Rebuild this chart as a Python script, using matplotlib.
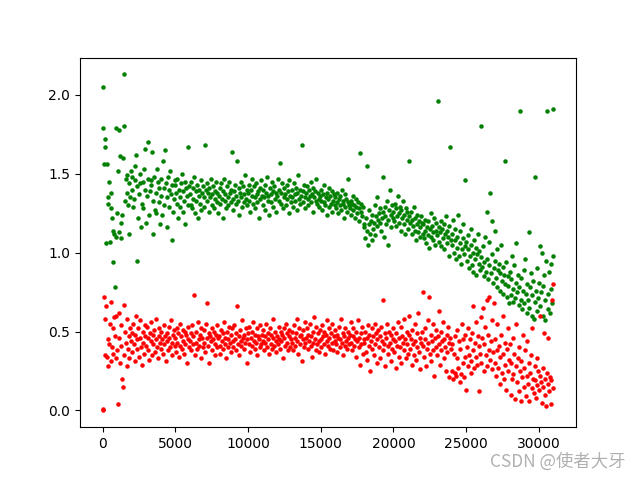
import numpy as np
import matplotlib
matplotlib.use("Agg")
import matplotlib.pyplot as plt

step = 50

green_y = [
    2.05, 1.79, 1.56, 1.72, 1.67, 1.06, 1.56, 1.35, 1.31, 1.45, 1.07, 1.28, 1.38, 1.22, 0.94, 1.14, 1.12, 0.78, 1.79, 1.10,
    1.25, 1.52, 1.13, 1.78, 1.61, 1.09, 1.19, 1.24, 1.60, 2.13, 1.80, 1.33, 1.47, 1.38, 1.49, 1.30, 1.12, 1.44, 1.35, 1.52,
    1.48, 1.40, 1.29, 1.34, 1.46, 1.55, 1.62, 1.42, 0.95, 1.22, 1.37, 1.50, 1.44, 1.16, 1.31, 1.45, 1.28, 1.53, 1.66, 1.40,
    1.19, 1.36, 1.70, 1.47, 1.24, 1.39, 1.46, 1.43, 1.64, 1.33, 1.12, 1.48, 1.27, 1.38, 1.25, 1.53, 1.45, 1.32, 1.41, 1.18,
    1.47, 1.36, 1.24, 1.58, 1.41, 1.30, 1.65, 1.44, 1.35, 1.16, 1.48, 1.29, 1.40, 1.52, 1.37, 1.08, 1.43, 1.26, 1.34, 1.46,
    1.43, 1.38, 1.31, 1.47, 1.22, 1.40, 1.35, 1.29, 1.44, 1.50, 1.26, 1.39, 1.33, 1.45, 1.18, 1.41, 1.36, 1.30, 1.67, 1.42,
    1.37, 1.30, 1.45, 1.28, 1.41, 1.34, 1.48, 1.25, 1.39, 1.33, 1.43, 1.22, 1.36, 1.40, 1.31, 1.46, 1.27, 1.38, 1.42, 1.35,
    1.29, 1.68, 1.40, 1.33, 1.44, 1.38, 1.26, 1.41, 1.35, 1.47, 1.30, 1.37, 1.42, 1.28, 1.39, 1.34, 1.45, 1.32, 1.38, 1.25,
    1.36, 1.41, 1.31, 1.44, 1.34, 1.22, 1.39, 1.47, 1.33, 1.37, 1.28, 1.42, 1.35, 1.30, 1.45, 1.38, 1.32, 1.40, 1.64, 1.34,
    1.27, 1.39, 1.43, 1.31, 1.36, 1.58, 1.33, 1.41, 1.24, 1.38, 1.45, 1.35, 1.29, 1.42, 1.37, 1.32, 1.49, 1.34, 1.40, 1.30,
    1.38, 1.43, 1.33, 1.26, 1.40, 1.36, 1.47, 1.31, 1.42, 1.35, 1.28, 1.44, 1.37, 1.32, 1.39, 1.22, 1.41, 1.34, 1.46, 1.36,
    1.30, 1.40, 1.35, 1.43, 1.27, 1.38, 1.48, 1.33, 1.36, 1.24, 1.41, 1.37, 1.32, 1.45, 1.39, 1.29, 1.42, 1.34, 1.38, 1.26,
    1.36, 1.47, 1.33, 1.40, 1.57, 1.31, 1.38, 1.44, 1.28, 1.35, 1.41, 1.37, 1.30, 1.43, 1.34, 1.39, 1.25, 1.46, 1.36, 1.32,
    1.40, 1.35, 1.29, 1.44, 1.37, 1.33, 1.41, 1.27, 1.38, 1.49, 1.34, 1.40, 1.31, 1.36, 1.68, 1.39, 1.32, 1.43, 1.35, 1.28,
    1.38, 1.42, 1.34, 1.30, 1.40, 1.36, 1.45, 1.32, 1.37, 1.26, 1.41, 1.35, 1.39, 1.33, 1.47, 1.31, 1.38, 1.34, 1.29, 1.36,
    1.33, 1.40, 1.27, 1.37, 1.32, 1.43, 1.30, 1.35, 1.38, 1.24, 1.34, 1.41, 1.29, 1.36, 1.31, 1.39, 1.26, 1.33, 1.37, 1.30,
    1.35, 1.28, 1.32, 1.38, 1.25, 1.34, 1.30, 1.36, 1.27, 1.40, 1.31, 1.33, 1.22, 1.37, 1.29, 1.34, 1.26, 1.32, 1.47, 1.30,
    1.28, 1.33, 1.24, 1.31, 1.36, 1.27, 1.30, 1.22, 1.34, 1.29, 1.25, 1.32, 1.20, 1.28, 1.63, 1.26, 1.31, 1.23, 1.29, 1.18,
    1.16, 1.09, 1.22, 1.14, 1.55, 1.05, 1.18, 1.27, 1.12, 1.20, 1.08, 1.24, 1.15, 1.19, 1.30, 1.11, 1.23, 1.17, 1.35, 1.21,
    1.25, 1.19, 1.28, 1.14, 1.22, 1.48, 1.26, 1.10, 1.23, 1.29, 1.18, 1.33, 1.21, 1.05, 1.27, 1.40, 1.24, 1.16, 1.30, 1.22,
    1.26, 1.20, 1.31, 1.17, 1.28, 1.23, 1.36, 1.19, 1.25, 1.29, 1.14, 1.27, 1.22, 1.33, 1.18, 1.24, 1.12, 1.28, 1.21, 1.26,
    1.15, 1.23, 1.58, 1.19, 1.26, 1.12, 1.21, 1.17, 1.29, 1.14, 1.22, 1.08, 1.18, 1.24, 1.13, 1.20, 1.10, 1.16, 1.23, 1.19,
    1.12, 1.18, 1.09, 1.21, 1.14, 1.06, 1.16, 1.11, 1.20, 1.03, 1.15, 1.25, 1.10, 1.17, 1.08, 1.13, 1.22, 1.05, 1.14, 1.19,
    1.11, 1.96, 1.16, 1.07, 1.13, 1.20, 1.04, 1.15, 1.09, 1.18, 1.02, 1.12, 1.23, 1.06, 1.14, 1.10, 0.98, 1.17, 1.67, 1.08,
    1.05, 1.12, 1.21, 1.00, 1.08, 1.15, 0.96, 1.03, 1.10, 1.24, 0.98, 1.06, 1.14, 0.93, 1.02, 1.09, 1.18, 0.99, 1.46, 1.04,
    1.07, 0.95, 1.02, 1.11, 0.90, 0.98, 1.05, 1.15, 0.92, 1.00, 0.88, 1.08, 0.96, 1.03, 0.86, 0.99, 1.12, 0.93, 1.01, 0.89,
    1.80, 0.97, 0.91, 1.04, 0.85, 0.94, 1.10, 0.88, 1.26, 0.96, 0.83, 1.07, 0.92, 1.38, 0.87, 0.99, 1.20, 0.81, 0.90, 1.14,
    0.95, 0.84, 1.02, 0.78, 0.89, 0.93, 0.76, 0.87, 1.05, 0.82, 0.91, 0.74, 0.86, 1.58, 0.80, 0.94, 0.72, 0.85, 0.79, 0.68,
    0.88, 0.73, 0.83, 0.98, 0.69, 0.77, 0.92, 0.71, 0.81, 1.06, 0.75, 0.86, 0.67, 0.78, 1.90, 0.70, 0.84, 0.64, 0.76, 0.89,
    0.68, 0.96, 0.74, 0.62, 0.80, 0.70, 1.13, 0.65, 0.78, 0.87, 0.60, 0.73, 0.82, 0.58, 0.69, 1.48, 0.76, 0.63, 0.90, 0.71,
    0.81, 1.04, 0.66, 0.75, 1.00, 0.60, 0.79, 0.86, 0.57, 0.70, 0.95, 1.90, 0.64, 0.74, 0.88, 0.62, 0.93, 0.77, 0.68, 1.91,
    0.98,
]

red_y = [
    0.00, 0.01, 0.72, 0.35, 0.58, 0.66, 0.34, 0.45, 0.28, 0.42, 0.55, 0.31, 0.69, 0.40, 0.52, 0.36, 0.59, 0.47, 0.33, 0.60,
    0.38, 0.04, 0.46, 0.62, 0.30, 0.54, 0.41, 0.20, 0.15, 0.67, 0.35, 0.50, 0.43, 0.28, 0.58, 0.39, 0.47, 0.33, 0.52, 0.44,
    0.49, 0.37, 0.55, 0.42, 0.31, 0.48, 0.60, 0.39, 0.45, 0.52, 0.34, 0.46, 0.57, 0.40, 0.29, 0.50, 0.43, 0.36, 0.54, 0.47,
    0.41, 0.53, 0.38, 0.46, 0.32, 0.49, 0.44, 0.56, 0.35, 0.48, 0.42, 0.51, 0.37, 0.45, 0.58, 0.40, 0.33, 0.47, 0.52, 0.43,
    0.39, 0.50, 0.45, 0.36, 0.54, 0.42, 0.47, 0.31, 0.49, 0.44, 0.38, 0.53, 0.46, 0.40, 0.57, 0.43, 0.35, 0.48, 0.51, 0.41,
    0.46, 0.37, 0.52, 0.43, 0.49, 0.34, 0.55, 0.41, 0.47, 0.39, 0.51, 0.44, 0.36, 0.50, 0.42, 0.48, 0.30, 0.45, 0.53, 0.40,
    0.44, 0.49, 0.38, 0.54, 0.42, 0.47, 0.73, 0.35, 0.50, 0.43, 0.39, 0.56, 0.45, 0.41, 0.48, 0.33, 0.52, 0.46, 0.40, 0.51,
    0.43, 0.37, 0.55, 0.46, 0.68, 0.41, 0.49, 0.30, 0.47, 0.44, 0.52, 0.38, 0.45, 0.50, 0.42, 0.35, 0.48, 0.54, 0.40, 0.46,
    0.47, 0.41, 0.36, 0.51, 0.44, 0.49, 0.39, 0.56, 0.42, 0.46, 0.33, 0.50, 0.45, 0.40, 0.53, 0.43, 0.48, 0.37, 0.52, 0.44,
    0.40, 0.54, 0.45, 0.38, 0.49, 0.66, 0.42, 0.47, 0.35, 0.51, 0.44, 0.41, 0.57, 0.46, 0.39, 0.48, 0.43, 0.52, 0.30, 0.45,
    0.49, 0.42, 0.53, 0.37, 0.46, 0.50, 0.41, 0.56, 0.44, 0.39, 0.48, 0.43, 0.52, 0.35, 0.47, 0.45, 0.40, 0.54, 0.42, 0.48,
    0.44, 0.51, 0.38, 0.47, 0.43, 0.55, 0.40, 0.49, 0.45, 0.36, 0.52, 0.42, 0.48, 0.39, 0.46, 0.58, 0.41, 0.50, 0.44, 0.37,
    0.47, 0.42, 0.53, 0.45, 0.39, 0.50, 0.44, 0.48, 0.33, 0.52, 0.46, 0.41, 0.55, 0.43, 0.49, 0.38, 0.47, 0.51, 0.40, 0.45,
    0.50, 0.43, 0.38, 0.54, 0.46, 0.41, 0.49, 0.58, 0.44, 0.36, 0.52, 0.47, 0.42, 0.48, 0.31, 0.45, 0.51, 0.40, 0.56, 0.43,
    0.46, 0.52, 0.39, 0.48, 0.44, 0.55, 0.41, 0.47, 0.34, 0.50, 0.43, 0.59, 0.45, 0.38, 0.53, 0.42, 0.49, 0.44, 0.37, 0.51,
    0.45, 0.40, 0.54, 0.47, 0.42, 0.50, 0.36, 0.48, 0.44, 0.57, 0.41, 0.46, 0.52, 0.39, 0.49, 0.43, 0.55, 0.38, 0.47, 0.44,
    0.51, 0.42, 0.48, 0.37, 0.46, 0.53, 0.40, 0.45, 0.58, 0.43, 0.49, 0.35, 0.47, 0.41, 0.52, 0.44, 0.39, 0.50, 0.46, 0.42,
    0.48, 0.56, 0.43, 0.38, 0.47, 0.52, 0.41, 0.45, 0.34, 0.50, 0.44, 0.57, 0.40, 0.46, 0.29, 0.49, 0.42, 0.53, 0.36, 0.45,
    0.43, 0.50, 0.37, 0.46, 0.32, 0.54, 0.41, 0.48, 0.25, 0.44, 0.52, 0.39, 0.47, 0.35, 0.55, 0.42, 0.49, 0.30, 0.45, 0.51,
    0.40, 0.47, 0.33, 0.53, 0.44, 0.38, 0.70, 0.42, 0.49, 0.28, 0.46, 0.55, 0.41, 0.36, 0.50, 0.43, 0.31, 0.48, 0.39, 0.45,
    0.52, 0.37, 0.44, 0.27, 0.49, 0.41, 0.56, 0.34, 0.46, 0.40, 0.53, 0.30, 0.47, 0.43, 0.58, 0.38, 0.45, 0.33, 0.50, 0.42,
    0.36, 0.48, 0.60, 0.39, 0.45, 0.29, 0.51, 0.42, 0.35, 0.55, 0.44, 0.32, 0.49, 0.40, 0.62, 0.37, 0.46, 0.26, 0.43, 0.50,
    0.75, 0.41, 0.34, 0.52, 0.45, 0.28, 0.39, 0.57, 0.43, 0.72, 0.36, 0.48, 0.31, 0.44, 0.55, 0.38, 0.22, 0.46, 0.40, 0.51,
    0.35, 0.47, 0.63, 0.42, 0.29, 0.50, 0.38, 0.44, 0.56, 0.33, 0.45, 0.40, 0.25, 0.48, 0.37, 0.53, 0.43, 0.21, 0.46, 0.39,
    0.25, 0.42, 0.20, 0.36, 0.24, 0.47, 0.22, 0.33, 0.51, 0.27, 0.44, 0.18, 0.39, 0.23, 0.55, 0.30, 0.45, 0.21, 0.34, 0.48,
    0.13, 0.40, 0.28, 0.52, 0.35, 0.45, 0.31, 0.24, 0.49, 0.38, 0.66, 0.27, 0.43, 0.34, 0.56, 0.29, 0.47, 0.12, 0.41, 0.36,
    0.59, 0.30, 0.46, 0.65, 0.25, 0.42, 0.53, 0.35, 0.70, 0.28, 0.48, 0.38, 0.72, 0.32, 0.44, 0.26, 0.57, 0.37, 0.68, 0.30,
    0.45, 0.22, 0.38, 0.55, 0.27, 0.41, 0.17, 0.34, 0.48, 0.24, 0.36, 0.60, 0.20, 0.43, 0.29, 0.13, 0.39, 0.52, 0.25, 0.32,
    0.42, 0.10, 0.30, 0.20, 0.46, 0.23, 0.36, 0.07, 0.28, 0.55, 0.18, 0.33, 0.12, 0.40, 0.25, 0.06, 0.31, 0.21, 0.48, 0.15,
    0.27, 0.38, 0.09, 0.22, 0.44, 0.17, 0.30, 0.06, 0.24, 0.35, 0.14, 0.52, 0.20, 0.11, 0.28, 0.19, 0.08, 0.33, 0.16, 0.25,
    0.13, 0.22, 0.60, 0.18, 0.05, 0.27, 0.15, 0.49, 0.20, 0.10, 0.03, 0.24, 0.17, 0.46, 0.12, 0.21, 0.04, 0.19, 0.70, 0.14,
    0.80,
]

green_x = np.arange(len(green_y)) * step
red_x = np.arange(len(red_y)) * step

fig, ax = plt.subplots(figsize=(6.4, 4.8), dpi=100)
ax.scatter(green_x, green_y, s=5, c="g")
ax.scatter(red_x, red_y, s=5, c="r")

# watermark
fig.text(0.977, 0.0375, "CSDN @使者大牙", ha="right", va="center", fontsize=12.5,
         color="#b0b0b0", family=["Noto Sans CJK SC", "DejaVu Sans"])

fig.savefig("out.png")
